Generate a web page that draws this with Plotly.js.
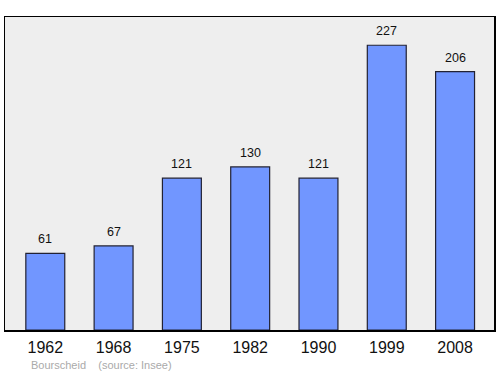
<!DOCTYPE html>
<html><head><meta charset="utf-8">
<script src="https://cdn.plot.ly/plotly-3.0.1.min.js"></script>
<style>html,body{margin:0;padding:0;background:#fff}#c{width:500px;height:374px}</style>
</head><body><div id="c"></div>
<script>
const years = ["1962","1968","1975","1982","1990","1999","2008"];
const population = [61, 67, 121, 130, 121, 227, 206];
const commune = "Bourscheid";
const source = "(source: Insee)";

const trace = {
  type: "bar",
  x: years.map((_, i) => i),
  y: population,
  width: 0.57,
  marker: {color: "#7196ff", line: {color: "#223", width: 1.2}},
  hoverinfo: "none"
};

const ann = population.map((v, i) => ({
  x: i, y: v, xref: "x", yref: "y", text: String(v), showarrow: false,
  yanchor: "bottom", yshift: 5, font: {family: "Liberation Sans, Arial, sans-serif", size: 12.5, color: "#111"}
}));
ann.push({xref: "paper", yref: "paper", x: 0.049, y: -0.112, xanchor: "left", yanchor: "middle",
  text: commune + "&nbsp;&nbsp;&nbsp;&nbsp;" + source, showarrow: false,
  font: {family: "Liberation Sans, Arial, sans-serif", size: 11, color: "#aaaaaa"}});

const layout = {
  width: 500, height: 374,
  margin: {l: 5, r: 6, t: 17, b: 44},
  paper_bgcolor: "#ffffff",
  plot_bgcolor: "#eeeeee",
  showlegend: false,
  xaxis: {
    range: [-0.59, 6.57], tickvals: years.map((_, i) => i), ticktext: years,
    showline: true, mirror: true, linecolor: "#000", linewidth: 1.5,
    showgrid: false, zeroline: false, ticks: "", ticklen: 0, ticklabelstandoff: 2,
    tickfont: {family: "Liberation Sans, Arial, sans-serif", size: 16, color: "#111"}
  },
  yaxis: {
    range: [0, 249.5], showline: true, mirror: true, linecolor: "#000", linewidth: 1.5,
    showgrid: false, zeroline: false, showticklabels: false, ticks: ""
  },
  annotations: ann
};
Plotly.newPlot("c", [trace], layout, {staticPlot: true, displayModeBar: false});
</script></body></html>
